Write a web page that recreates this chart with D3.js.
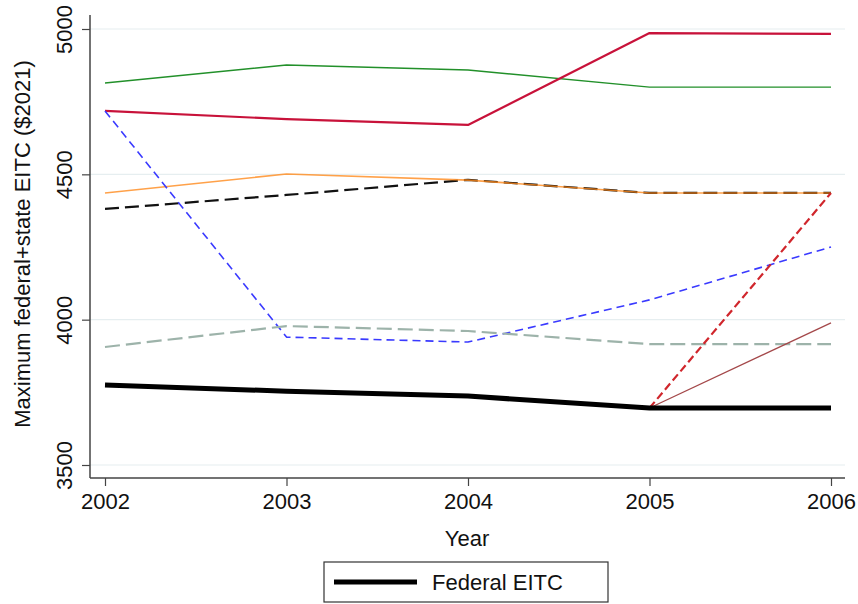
<!DOCTYPE html>
<html><head><meta charset="utf-8">
<script src="https://cdn.jsdelivr.net/npm/d3@7/dist/d3.min.js"></script>
<style>body{margin:0;background:#fff}svg{display:block;font-family:"Liberation Sans",Arial,Helvetica,sans-serif}</style>
</head><body><svg id="c" width="858" height="604"></svg>
<script>
const years = [2002, 2003, 2004, 2005, 2006];
const yTicks = [3500, 4000, 4500, 5000];
const federal = [3775, 3754, 3737, 3696, 3696];
const greenState = [4814, 4876, 4859, 4800, 4800];
const crimsonState = [4718, 4690, 4670, 4986, 4983];
const blackDashState = [4381, 4429, 4481, 4436, 4436];
const orangeState = [4436, 4501, 4480, 4436, 4436];
const blueDashState = [4718, 3940, 3923, 4068, 4250];
const grayDashState = [3906, 3978, 3961, 3916, 3916];
const redDashState = [null, null, null, 3696, 4436];
const brownState = [null, null, null, 3696, 3989];
const legendLabels = ["Federal EITC"];

const series = [
  {v: greenState, color: "#22902a", w: 1.4, dash: null, op: 1},
  {v: crimsonState, color: "#c8123a", w: 2.2, dash: null, op: 1},
  {v: blackDashState, color: "#111", w: 2.2, dash: "14,6", op: 1},
  {v: orangeState, color: "#ff8a1c", w: 1.6, dash: null, op: 0.8},
  {v: blueDashState, color: "#3a3aff", w: 1.6, dash: "8,5", op: 1},
  {v: grayDashState, color: "#9db3aa", w: 2.2, dash: "15,6", op: 1},
  {v: redDashState, color: "#d0262c", w: 2.2, dash: "8,4", op: 1},
  {v: brownState, color: "#a4484a", w: 1.3, dash: null, op: 1},
  {v: federal, color: "#000", w: 5, dash: null, op: 1}
];

const FS = 22;
const svg = d3.select("#c");
const x = d3.scaleLinear().domain([2002, 2006]).range([105, 831]);
const y = d3.scaleLinear().domain([3500, 5000]).range([465, 29]);
const pLeft = 90, pRight = 845, pBottom = 478, pTop = 15;

// gridlines
svg.append("g").selectAll("line").data(yTicks).join("line")
  .attr("x1", pLeft).attr("x2", pRight)
  .attr("y1", d => y(d)).attr("y2", d => y(d))
  .attr("stroke", "#e6eef0").attr("stroke-width", 1.2);

// lines
const line = d3.line().defined(d => d[1] != null).x(d => x(d[0])).y(d => y(d[1]));
series.forEach(s => {
  svg.append("path")
    .datum(years.map((yr, i) => [yr, s.v[i]]))
    .attr("d", line)
    .attr("fill", "none")
    .attr("stroke", s.color)
    .attr("stroke-width", s.w)
    .attr("stroke-opacity", s.op)
    .attr("stroke-dasharray", s.dash)
    .attr("stroke-linejoin", "round");
});

// axes
const xAxis = d3.axisBottom(x).tickValues(years).tickFormat(d3.format("d")).tickSize(8).tickPadding(7);
const gx = svg.append("g").attr("transform", `translate(0,${pBottom})`).call(xAxis);
gx.select(".domain").attr("d", `M${pLeft},0H${pRight}`).attr("stroke", "#444").attr("stroke-width", 1.5);
gx.selectAll(".tick line").attr("stroke", "#444").attr("stroke-width", 1.2);
gx.selectAll(".tick text").attr("font-size", FS).attr("fill", "#111").attr("font-family", "Liberation Sans, Arial, sans-serif");

const yAxis = d3.axisLeft(y).tickValues(yTicks).tickFormat(d3.format("d")).tickSize(8);
const gy = svg.append("g").attr("transform", `translate(${pLeft},0)`).call(yAxis);
gy.select(".domain").attr("d", `M0,${pTop}V${pBottom}`).attr("stroke", "#444").attr("stroke-width", 1.5);
gy.selectAll(".tick line").attr("stroke", "#444").attr("stroke-width", 1.2);
gy.selectAll(".tick text")
  .attr("font-size", FS).attr("fill", "#111").attr("font-family", "Liberation Sans, Arial, sans-serif")
  .attr("x", null).attr("dy", null)
  .attr("text-anchor", "middle")
  .attr("transform", "translate(-18,0) rotate(-90)")
  .attr("y", 0);

// axis titles
svg.append("text").attr("x", 467).attr("y", 546).attr("text-anchor", "middle")
  .attr("font-size", FS).attr("fill", "#111").text("Year");
svg.append("text").attr("transform", "translate(30,244) rotate(-90)").attr("text-anchor", "middle")
  .attr("font-size", FS).attr("fill", "#111").text("Maximum federal+state EITC ($2021)");

// legend
const lg = svg.append("g");
lg.append("rect").attr("x", 324).attr("y", 562).attr("width", 284).attr("height", 40)
  .attr("fill", "#fff").attr("stroke", "#333").attr("stroke-width", 1.2);
lg.append("line").attr("x1", 334).attr("x2", 417).attr("y1", 582).attr("y2", 582)
  .attr("stroke", "#000").attr("stroke-width", 5);
lg.append("text").attr("x", 432).attr("y", 590).attr("font-size", FS).attr("fill", "#111").text(legendLabels[0]);
</script></body></html>
